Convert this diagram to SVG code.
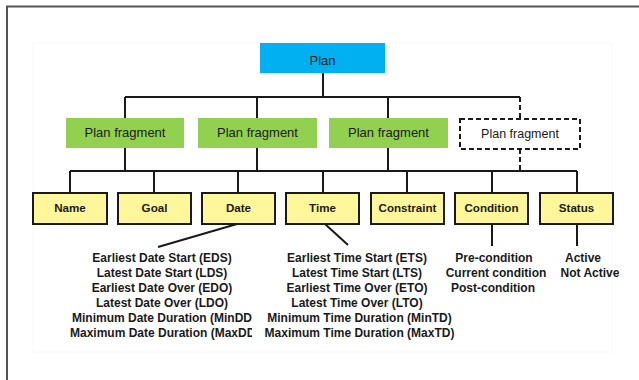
<svg xmlns="http://www.w3.org/2000/svg" width="639" height="380" viewBox="0 0 639 380">
<style>
.frag{fill:#92d050}
.leaf{fill:#fff799;stroke:#1a1a1a;stroke-width:2}
.t{font-family:"Liberation Sans",Arial,sans-serif;fill:#1a1a1a;text-anchor:middle}
.tb{font-family:"Liberation Sans",Arial,sans-serif;font-weight:bold;fill:#1a1a1a;text-anchor:middle}
.c{stroke:#1a1a1a;stroke-width:2;fill:none}
.d{stroke:#1a1a1a;stroke-width:2;fill:none;stroke-dasharray:5 3}
.list{font-family:"Liberation Sans",Arial,sans-serif;font-weight:bold;font-size:12px;fill:#1a1a1a}
</style>
<defs>
<clipPath id="clipDate"><rect x="0" y="240" width="252" height="110"/></clipPath>
</defs>
<rect x="0" y="0" width="639" height="380" fill="#ffffff"/>
<rect x="7" y="6.5" width="700" height="500" fill="none" stroke="#555555" stroke-width="2"/>
<rect x="33" y="43" width="579" height="309" fill="none" stroke="#f7f7f7" stroke-width="1"/>

<g id="connectors">
<path class="c" d="M323 73V97M125 97H520M125 97V118M257 97V118M388 97V118"/>
<path class="d" d="M520 97V119"/>
<path class="c" d="M125 148V171M257 148V171M388 148V171M70 171H577M70 171V193M154 171V193M238 171V193M323 171V193M407 171V193M492 171V193M577 171V193"/>
<path class="d" d="M520 149V171"/>
<path class="c" d="M237 224L158 247M325 224L348 245M492 224V246"/>
<path class="c" stroke-width="1.5" d="M577 224V246"/>
</g>

<g id="plan">
<rect x="260" y="43" width="125" height="30" fill="#00b0f0"/>
<text class="t" x="322.5" y="64.5" font-size="13">Plan</text>
</g>

<g id="frag1"><rect class="frag" x="66" y="118" width="118" height="30"/><text class="t" x="125" y="137" font-size="13">Plan fragment</text></g>
<g id="frag2"><rect class="frag" x="198" y="118" width="119" height="30"/><text class="t" x="257.5" y="137" font-size="13">Plan fragment</text></g>
<g id="frag3"><rect class="frag" x="329" y="118" width="119" height="30"/><text class="t" x="388.5" y="137" font-size="13">Plan fragment</text></g>
<g id="frag4"><rect x="460" y="119" width="120" height="30" fill="#ffffff" stroke="#1a1a1a" stroke-width="2" stroke-dasharray="5 3"/><text class="t" x="520" y="138" font-size="12.5">Plan fragment</text></g>

<g id="name"><rect class="leaf" x="33" y="193" width="74" height="31"/><text class="tb" x="70" y="212.3" font-size="11.6">Name</text></g>
<g id="goal"><rect class="leaf" x="118" y="193" width="73" height="31"/><text class="tb" x="154.5" y="212.3" font-size="11.6">Goal</text></g>
<g id="date"><rect class="leaf" x="202" y="193" width="73" height="31"/><text class="tb" x="238.5" y="212.3" font-size="11.6">Date</text></g>
<g id="time"><rect class="leaf" x="286" y="193" width="73" height="31"/><text class="tb" x="322.5" y="212.3" font-size="11.6">Time</text></g>
<g id="constraint"><rect class="leaf" x="371" y="193" width="73" height="31"/><text class="tb" x="407.5" y="212.3" font-size="11.6">Constraint</text></g>
<g id="condition"><rect class="leaf" x="455" y="193" width="73" height="31"/><text class="tb" x="491.5" y="212.3" font-size="11.6">Condition</text></g>
<g id="status"><rect class="leaf" x="540" y="193" width="73" height="31"/><text class="tb" x="576.5" y="212.3" font-size="11.6">Status</text></g>

<g id="date-list" class="list">
<text x="162" y="262.3" text-anchor="middle">Earliest Date Start (EDS)</text>
<text x="162" y="277.3" text-anchor="middle">Latest Date Start (LDS)</text>
<text x="162" y="292.3" text-anchor="middle">Earliest Date Over (EDO)</text>
<text x="162" y="307.3" text-anchor="middle">Latest Date Over (LDO)</text>
<g clip-path="url(#clipDate)">
<text x="72" y="322.3">Minimum Date Duration (MinDD</text>
<text x="70" y="337.3">Maximum Date Duration (MaxDD</text>
</g>
</g>

<g id="time-list" class="list" text-anchor="middle">
<text x="357" y="262.3">Earliest Time Start (ETS)</text>
<text x="357" y="277.3">Latest Time Start (LTS)</text>
<text x="357" y="292.3">Earliest Time Over (ETO)</text>
<text x="357" y="307.3">Latest Time Over (LTO)</text>
<text x="359.5" y="322.3">Minimum Time Duration (MinTD)</text>
<text x="359.5" y="337.3">Maximum Time Duration (MaxTD)</text>
</g>

<g id="condition-list" class="list" text-anchor="middle">
<text x="494" y="262.3">Pre-condition</text>
<text x="496" y="277.3">Current condition</text>
<text x="493" y="292.3">Post-condition</text>
</g>

<g id="status-list" class="list" text-anchor="middle">
<text x="583" y="262.3">Active</text>
<text x="590" y="277.3">Not Active</text>
</g>
</svg>
